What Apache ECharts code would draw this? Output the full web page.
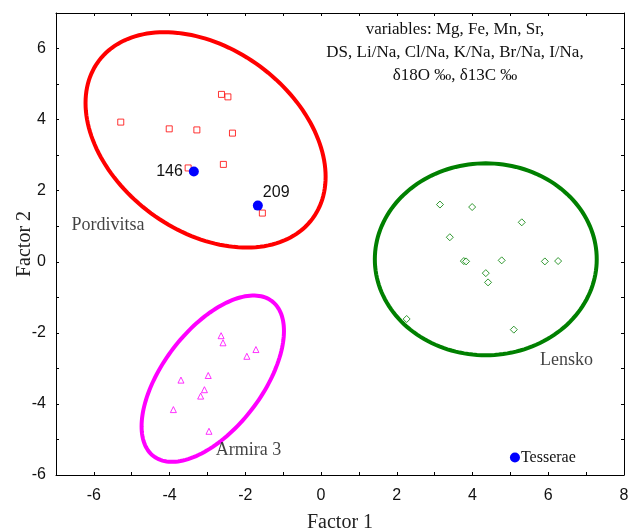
<!DOCTYPE html>
<html>
<head>
<meta charset="utf-8">
<title>Factor 1 / Factor 2</title>
<script src="https://cdn.jsdelivr.net/npm/echarts@6/dist/echarts.min.js"></script>
<style>
  html, body { margin: 0; padding: 0; background: #fff; }
  #main { width: 629px; height: 530px; }
</style>
</head>
<body>
<div id="main"></div>
<script>
// --- data ---
var pordivitsa = [[-5.29, 3.93], [-4.01, 3.74], [-3.28, 3.71], [-2.63, 4.71], [-2.46, 4.64],
                  [-2.34, 3.62], [-2.58, 2.74], [-3.51, 2.64], [-1.55, 1.37]];
var lensko = [[3.14, 1.61], [3.99, 1.54], [5.30, 1.11], [3.40, 0.69], [3.77, 0.02], [3.83, 0.01],
              [4.77, 0.04], [5.91, 0.01], [6.26, 0.02], [4.35, -0.32], [4.41, -0.58],
              [2.26, -1.61], [5.09, -1.91]];
var armira = [[-2.64, -2.08], [-2.59, -2.28], [-1.72, -2.47], [-1.96, -2.66], [-2.98, -3.20],
              [-3.70, -3.33], [-3.08, -3.60], [-3.18, -3.78], [-3.90, -4.16], [-2.96, -4.77]];
var bluePoints = [[-3.36, 2.54], [-1.67, 1.58], [5.12, -5.51]];
var blueNames = ['146', '209', 'Tesserae'];

// ellipses: centre x, centre y, half-width x, half-height y, phase (deg)
var ellipseNames = ['Pordivitsa', 'Lensko', 'Armira 3'];
var ellipseCx = [-3.05, 4.35, -2.86];
var ellipseCy = [3.43, 0.07, -3.29];
var ellipseRx = [3.17, 2.93, 1.88];
var ellipseRy = [3.03, 2.70, 2.34];
var ellipsePhase = [110, 90, 55];
var ellipseColors = ['#ff0000', '#008000', '#ff00ff'];

// group names placed in the plot
var groupLabels = ['Pordivitsa', 'Lensko', 'Armira 3'];
var groupLabelPos = [[-6.59, 1.04], [5.78, -2.76], [-2.78, -5.30]];

var xTicks = [-6, -4, -2, 0, 2, 4, 6, 8];
var yTicks = [-6, -4, -2, 0, 2, 4, 6];
var noteLines = ['variables: Mg, Fe, Mn, Sr,', 'DS, Li/Na, Cl/Na, K/Na, Br/Na, I/Na,', '\u03b418O \u2030, \u03b413C \u2030'];

var serif = '"Liberation Serif", "Times New Roman", serif';
var sans = '"Liberation Sans", Arial, sans-serif';

var ellipseData = [];
for (var i = 0; i < ellipseNames.length; i++) {
  ellipseData.push([ellipseCx[i], ellipseCy[i], ellipseRx[i], ellipseRy[i], ellipsePhase[i]]);
}

function renderEllipse(params, api) {
  var cx = api.value(0), cy = api.value(1), rx = api.value(2), ry = api.value(3);
  var ph = api.value(4) * Math.PI / 180;
  var pts = [];
  for (var k = 0; k <= 160; k++) {
    var t = k / 160 * Math.PI * 2;
    pts.push(api.coord([cx + rx * Math.cos(t), cy + ry * Math.cos(t - ph)]));
  }
  return {
    type: 'polygon',
    shape: { points: pts },
    style: { fill: 'none', stroke: ellipseColors[params.dataIndex], lineWidth: 4 }
  };
}

function axisBase(show) {
  return {
    type: 'value',
    interval: 1,
    axisLine: { show: true, onZero: false, lineStyle: { color: '#000', width: 1 } },
    axisTick: { show: true, inside: true, length: 3, lineStyle: { color: '#000' } },
    splitLine: { show: false },
    axisLabel: { show: show }
  };
}

var xMain = axisBase(true);
xMain.min = -7; xMain.max = 8; xMain.position = 'bottom';
xMain.name = 'Factor 1';
xMain.nameLocation = 'middle';
xMain.nameGap = 38;
xMain.nameTextStyle = { fontFamily: serif, fontSize: 20, color: '#222' };
xMain.axisLabel = {
  show: true, margin: 13, fontFamily: sans, fontSize: 16, color: '#111',
  showMinLabel: true, showMaxLabel: true,
  formatter: function (v) { return xTicks.indexOf(v) >= 0 ? String(v) : ''; }
};
var xTop = axisBase(false);
xTop.min = -7; xTop.max = 8; xTop.position = 'top';

var yMain = axisBase(true);
yMain.min = -6; yMain.max = 7; yMain.position = 'left';
yMain.name = 'Factor 2';
yMain.nameLocation = 'middle';
yMain.nameGap = 21;
yMain.nameMoveOverlap = false;
yMain.nameTextStyle = { fontFamily: serif, fontSize: 20, color: '#222' };
yMain.axisLabel = {
  show: true, margin: 10, fontFamily: sans, fontSize: 16, color: '#111',
  showMinLabel: true, showMaxLabel: true,
  formatter: function (v) { return yTicks.indexOf(v) >= 0 ? String(v) : ''; }
};
var yRight = axisBase(false);
yRight.min = -6; yRight.max = 7; yRight.position = 'right';

var myChart = echarts.init(document.getElementById('main'));
var option = {
  backgroundColor: '#fff',
  animation: false,
  grid: { left: 56, right: 5, top: 13, bottom: 55, containLabel: false, outerBoundsMode: 'none' },
  xAxis: [xMain, xTop],
  yAxis: [yMain, yRight],
  graphic: [{
    type: 'text',
    x: 455, y: 18,
    style: {
      text: noteLines.join('\n'),
      align: 'center',
      verticalAlign: 'top',
      font: '17px ' + serif,
      lineHeight: 23,
      fill: '#111'
    }
  }],
  series: [
    {
      type: 'custom',
      renderItem: renderEllipse,
      data: ellipseData,
      encode: { x: 0, y: 1 },
      silent: true,
      z: 1
    },
    {
      type: 'scatter', data: pordivitsa, symbol: 'rect', symbolSize: 6,
      itemStyle: { color: '#fff', borderColor: '#ff0000', borderWidth: 1 }, z: 3
    },
    {
      type: 'scatter', data: lensko, symbol: 'diamond', symbolSize: 7,
      itemStyle: { color: '#fff', borderColor: '#008000', borderWidth: 1 }, z: 3
    },
    {
      type: 'scatter', data: armira, symbol: 'triangle', symbolSize: 6,
      itemStyle: { color: '#fff', borderColor: '#ff00ff', borderWidth: 1 }, z: 3
    },
    {
      type: 'scatter',
      data: bluePoints.map(function (p, i) {
        var lab;
        if (i === 0) lab = { position: 'left', distance: 6 };
        else if (i === 1) lab = { position: 'right', distance: 0, offset: [0, -13] };
        else lab = { position: 'right', distance: 1, fontFamily: serif, fontSize: 16, color: '#111' };
        return { value: p, name: blueNames[i], label: lab };
      }),
      symbol: 'circle', symbolSize: 10,
      itemStyle: { color: '#0000ff', opacity: 1 },
      label: { show: true, formatter: '{b}', fontFamily: sans, fontSize: 16, color: '#111' },
      z: 5
    },
    {
      type: 'scatter',
      data: groupLabelPos.map(function (p, i) { return { value: p, name: groupLabels[i] }; }),
      symbolSize: 0,
      silent: true,
      label: {
        show: true, position: 'right', distance: 0, formatter: '{b}',
        fontFamily: serif, fontSize: 18, color: '#111'
      },
      z: 4
    }
  ]
};
myChart.setOption(option);
</script>
</body>
</html>
